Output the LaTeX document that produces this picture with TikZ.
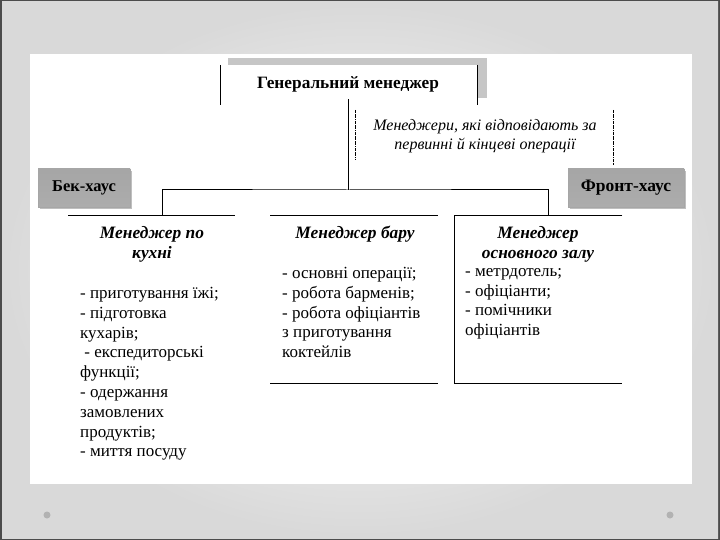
\documentclass[tikz,border=0pt]{standalone}
\usepackage{fontspec}
\setmainfont{Liberation Serif}
\usetikzlibrary{positioning, calc}

\tikzset{
  frame/.style={draw=none, inner sep=0pt, anchor=north west},
  headtxt/.style={font=\fontsize{17.4}{20}\selectfont\bfseries\itshape, align=center, inner sep=0pt},
  listtxt/.style={font=\fontsize{17}{19.8}\selectfont, align=left, inner sep=0pt, anchor=north west},
  tagbox/.style={draw=gray!70, top color=gray!70, middle color=gray!15, bottom color=gray!65,
    font=\fontsize{17.5}{18}\selectfont\bfseries, minimum height=38pt, inner sep=0pt},
  rule/.style={line width=1pt, black}
}

\begin{document}
\begin{tikzpicture}[x=1pt, y=-1pt]
  \useasboundingbox (0,0) rectangle (720,540);
  % slide background
  \fill[black!70] (0,0) rectangle (720,540);
  \shade[inner color=white, outer color=gray!30] (2,2) rectangle (718,538);
  \fill[white] (30,54) rectangle (692,484);
  \fill[gray!60] (47,515) circle (3.5pt);
  \fill[gray!60] (670,515) circle (3.5pt);

  % general manager
  \fill[gray!45] (228,58) rectangle (487,65);
  \fill[gray!45] (478,58) rectangle (487,98);
  \draw[thin] (220,65) -- (220,105);
  \draw[thin] (477,65) -- (477,105);
  \node[font=\fontsize{17.3}{20}\selectfont\bfseries, inner sep=0pt, minimum height=30pt] (gm) at (348,84) {Генеральний менеджер};

  % note
  \node[font=\fontsize{16}{19}\selectfont\itshape, align=center] (note) at (485,136)
    {Менеджери, які відповідають за\\первинні й кінцеві операції};
  \draw[thin, densely dashdotted] (355,110) -- (355,160);
  \draw[thin, densely dashdotted] (613,110) -- (613,165);

  % side tags
  \fill[gray!50] (40,171) rectangle (132,209);
  \node[tagbox, minimum width=92pt, font=\fontsize{16.5}{18}\selectfont\bfseries] (back) at (84,188) {Бек-хаус};
  \fill[gray!50] (570,171) rectangle (686,209);
  \node[tagbox, minimum width=116pt] (front) at (626,188) {Фронт-хаус};

  % boxes
  \node[frame, minimum width=167pt, minimum height=250pt] (kitBox) at (68,216) {};
  \node[frame, minimum width=168pt, minimum height=167pt] (barBox) at (270,216) {};
  \node[frame, minimum width=168pt, minimum height=167pt] (hallBox) at (454,216) {};
  \draw[rule] (kitBox.north west) -- (kitBox.north east);
  \draw[rule] (barBox.north west) -- (barBox.north east);
  \draw[rule] (barBox.south west) -- (barBox.south east);
  \draw[rule] (hallBox.north east) -- (hallBox.north west) -- (hallBox.south west) -- (hallBox.south east);

  % connectors
  \coordinate (bus) at (348,190);
  \coordinate (kitTop) at (162,216);
  \coordinate (hallTop) at (548,216);
  \draw[rule] (gm.south) -- (bus);
  \draw[rule] (kitTop) |- (bus) -| (hallTop);

  % texts
  \node[headtxt] (kitHead) at (152,244) {Менеджер по\\кухні};
  \node[listtxt] (kitList) at (80,287) {- приготування їжі;\\- підготовка\\кухарів;\\\ - експедиторські\\функції;\\- одержання\\замовлених\\продуктів;\\- миття посуду};
  \node[headtxt] (barHead) at (355,234) {Менеджер бару};
  \node[listtxt] (barList) at (282,267) {- основні операції;\\- робота барменів;\\- робота офіціантів\\з приготування\\коктейлів};
  \node[headtxt] (hallHead) at (538,244) {Менеджер\\основного залу};
  \node[listtxt] (hallList) at (465,268) {- метрдотель;\\- офіціанти;\\- помічники\\офіціантів};
\end{tikzpicture}
\end{document}
